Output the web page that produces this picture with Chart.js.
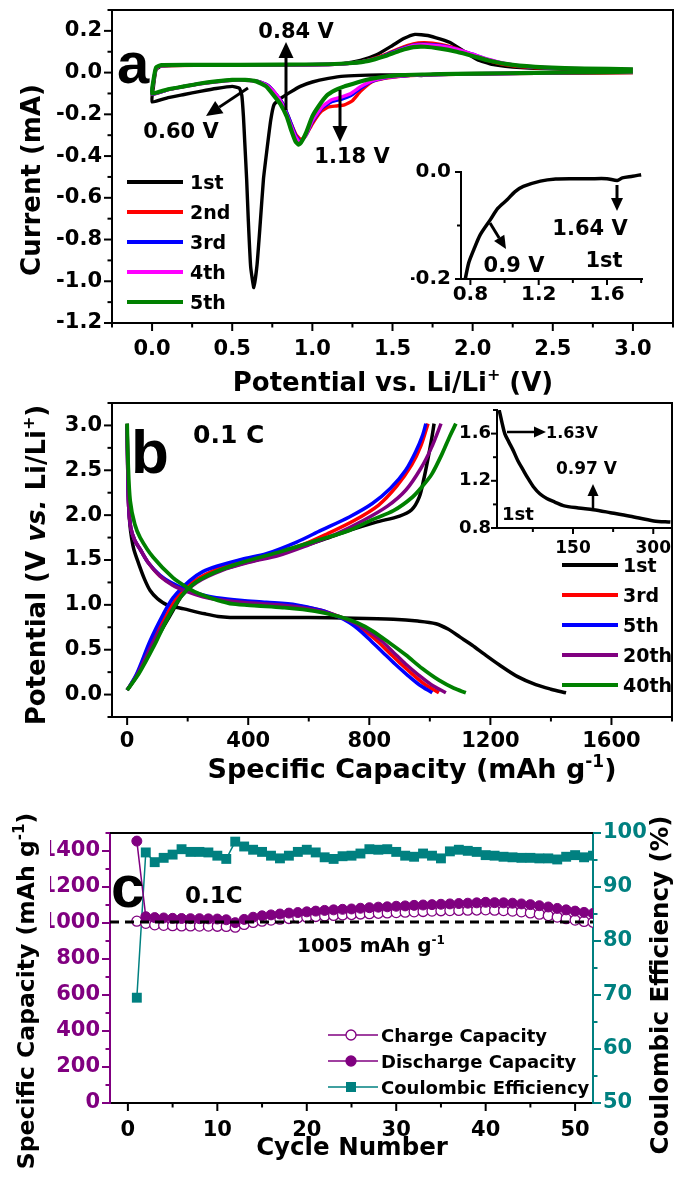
<!DOCTYPE html>
<html>
<head>
<meta charset="utf-8">
<script src="https://cdn.jsdelivr.net/npm/chart.js@4.4.1/dist/chart.umd.min.js"></script>
<style>
html, body { margin: 0; padding: 0; background: #fff; }
#wrap { position: relative; width: 685px; height: 1178px; }
#wrap canvas { position: absolute; left: 0; top: 0; }
</style>
</head>
<body>
<div id="wrap">
  <canvas id="cvA" width="685" height="1178"></canvas>
  <canvas id="cvAi" width="685" height="1178"></canvas>
  <canvas id="cvB" width="685" height="1178"></canvas>
  <canvas id="cvBi" width="685" height="1178"></canvas>
  <canvas id="cvC" width="685" height="1178"></canvas>
</div>
<script>
// ---- panel a: CV curves [potential V, current mA] ----
var cv1 = [[3.0,0.0],[2.6,-0.002],[2.2,-0.004],[1.9,-0.005],[1.75,-0.009],[1.68,-0.014],[1.62,-0.011],[1.5,-0.011],[1.35,-0.012],[1.2,-0.017],[1.1,-0.028],[1.0,-0.045],[0.925,-0.066],[0.86,-0.095],[0.8,-0.125],[0.76,-0.155],[0.74,-0.23],[0.715,-0.38],[0.695,-0.51],[0.675,-0.72],[0.655,-0.92],[0.635,-1.03],[0.615,-0.93],[0.6,-0.7],[0.59,-0.51],[0.578,-0.33],[0.57,-0.21],[0.56,-0.11],[0.545,-0.075],[0.5,-0.066],[0.4,-0.076],[0.3,-0.09],[0.2,-0.105],[0.1,-0.12],[0.0,-0.14],
  [0.008,-0.07],[0.025,0.015],[0.06,0.032],[0.2,0.035],[0.6,0.036],[1.0,0.038],[1.2,0.044],[1.3,0.058],[1.4,0.085],[1.5,0.13],[1.57,0.163],[1.64,0.183],[1.72,0.178],[1.8,0.16],[1.87,0.14],[1.95,0.1],[2.03,0.062],[2.12,0.04],[2.3,0.024],[2.6,0.016],[3.0,0.012]];
var cv2 = [[3.0,0.0],[2.6,-0.002],[2.2,-0.005],[1.9,-0.008],[1.7,-0.012],[1.55,-0.018],[1.45,-0.028],[1.37,-0.045],[1.3,-0.09],[1.25,-0.135],[1.2,-0.155],[1.15,-0.16],[1.1,-0.165],[1.05,-0.19],[1.0,-0.245],[0.96,-0.3],[0.93,-0.322],[0.9,-0.3],[0.86,-0.23],[0.82,-0.155],[0.77,-0.1],[0.72,-0.06],[0.66,-0.042],[0.58,-0.036],[0.5,-0.036],[0.4,-0.043],[0.3,-0.053],[0.2,-0.066],[0.1,-0.082],[0.0,-0.105],
  [0.008,-0.05],[0.025,0.02],[0.06,0.033],[0.3,0.035],[0.8,0.036],[1.1,0.038],[1.25,0.046],[1.35,0.06],[1.45,0.085],[1.55,0.118],[1.63,0.138],[1.7,0.143],[1.8,0.135],[1.9,0.115],[2.0,0.085],[2.1,0.057],[2.2,0.038],[2.35,0.025],[2.6,0.018],[3.0,0.013]];
var cv3 = [[3.0,0.002],[2.6,0.0],[2.2,-0.004],[1.9,-0.007],[1.7,-0.011],[1.55,-0.017],[1.45,-0.026],[1.37,-0.042],[1.3,-0.075],[1.24,-0.11],[1.18,-0.128],[1.12,-0.14],[1.06,-0.17],[1.0,-0.235],[0.96,-0.3],[0.925,-0.33],[0.895,-0.3],[0.86,-0.23],[0.82,-0.155],[0.77,-0.1],[0.72,-0.06],[0.66,-0.042],[0.58,-0.036],[0.5,-0.036],[0.4,-0.043],[0.3,-0.053],[0.2,-0.066],[0.1,-0.082],[0.0,-0.103],
  [0.008,-0.045],[0.025,0.022],[0.06,0.034],[0.3,0.036],[0.8,0.037],[1.1,0.039],[1.25,0.046],[1.35,0.058],[1.45,0.082],[1.55,0.113],[1.63,0.132],[1.7,0.136],[1.8,0.13],[1.9,0.113],[2.0,0.088],[2.1,0.062],[2.2,0.043],[2.35,0.028],[2.6,0.019],[3.0,0.014]];
var cv4 = [[3.0,0.002],[2.6,0.0],[2.2,-0.004],[1.9,-0.007],[1.7,-0.011],[1.55,-0.016],[1.45,-0.025],[1.37,-0.04],[1.3,-0.068],[1.24,-0.1],[1.18,-0.117],[1.12,-0.13],[1.06,-0.165],[1.0,-0.23],[0.96,-0.3],[0.922,-0.335],[0.89,-0.3],[0.855,-0.23],[0.815,-0.155],[0.77,-0.1],[0.72,-0.062],[0.66,-0.043],[0.58,-0.037],[0.5,-0.037],[0.4,-0.044],[0.3,-0.054],[0.2,-0.067],[0.1,-0.082],[0.0,-0.102],
  [0.008,-0.045],[0.025,0.022],[0.06,0.034],[0.3,0.036],[0.8,0.037],[1.1,0.039],[1.25,0.046],[1.35,0.058],[1.45,0.08],[1.55,0.11],[1.63,0.13],[1.7,0.134],[1.8,0.128],[1.9,0.112],[2.0,0.088],[2.1,0.063],[2.2,0.044],[2.35,0.029],[2.6,0.02],[3.0,0.015]];
var cv5 = [[3.0,0.004],[2.6,0.001],[2.2,-0.003],[1.9,-0.006],[1.7,-0.009],[1.55,-0.012],[1.45,-0.02],[1.34,-0.034],[1.27,-0.05],[1.2,-0.066],[1.14,-0.085],[1.09,-0.11],[1.04,-0.16],[1.0,-0.21],[0.96,-0.29],[0.93,-0.335],[0.915,-0.345],[0.895,-0.33],[0.87,-0.28],[0.84,-0.21],[0.8,-0.15],[0.76,-0.11],[0.71,-0.065],[0.65,-0.042],[0.58,-0.035],[0.5,-0.035],[0.4,-0.042],[0.3,-0.052],[0.2,-0.066],[0.1,-0.08],[0.0,-0.1],
  [0.008,-0.04],[0.025,0.025],[0.06,0.036],[0.3,0.037],[0.8,0.038],[1.1,0.04],[1.25,0.046],[1.35,0.056],[1.45,0.078],[1.55,0.106],[1.63,0.122],[1.7,0.124],[1.8,0.115],[1.9,0.1],[2.0,0.08],[2.1,0.058],[2.25,0.037],[2.45,0.025],[2.7,0.019],[3.0,0.016]];
var cvLabels = ['1st', '2nd', '3rd', '4th', '5th'];
// inset a: 1st cathodic scan, zoomed
var insetA = [[0.77,-0.2],[0.79,-0.17],[0.82,-0.145],[0.858,-0.117],[0.917,-0.089],[0.96,-0.068],[1.015,-0.052],[1.06,-0.037],[1.11,-0.027],[1.21,-0.017],[1.3,-0.013],[1.4,-0.0125],[1.5,-0.0125],[1.6,-0.0125],[1.66,-0.016],[1.69,-0.011],[1.75,-0.008],[1.8,-0.005]];

// ---- panel b: discharge / charge [capacity mAh/g, potential V] ----
var dis1 = [[0,3.02],[2,2.55],[5,2.15],[9,1.9],[15,1.74],[22,1.62],[38,1.46],[57,1.29],[76,1.16],[100,1.07],[132,1.0],[188,0.955],[257,0.9],[301,0.87],[340,0.86],[450,0.86],[600,0.858],[750,0.852],[880,0.84],[960,0.82],[1020,0.79],[1060,0.73],[1100,0.64],[1140,0.55],[1180,0.45],[1230,0.33],[1290,0.2],[1350,0.11],[1400,0.06],[1450,0.02]];
var chg1 = [[0,0.05],[30,0.2],[85,0.55],[140,0.87],[197,1.18],[260,1.33],[350,1.43],[460,1.53],[560,1.63],[650,1.73],[734,1.83],[820,1.92],[900,1.99],[940,2.06],[965,2.2],[980,2.4],[995,2.65],[1006,2.85],[1014,3.02]];
var dis3 = [[0,3.0],[2,2.5],[5,2.1],[12,1.86],[25,1.72],[43,1.62],[70,1.47],[109,1.32],[150,1.23],[196,1.16],[250,1.1],[295,1.07],[380,1.04],[460,1.02],[560,0.99],[640,0.94],[700,0.87],[745,0.8],[785,0.71],[825,0.6],[865,0.47],[905,0.34],[945,0.22],[985,0.11],[1030,0.02]];
var chg3 = [[0,0.05],[30,0.21],[80,0.57],[130,0.89],[165,1.08],[220,1.26],[300,1.4],[400,1.5],[480,1.56],[580,1.67],[660,1.79],[750,1.94],[830,2.11],[890,2.32],[940,2.56],[970,2.77],[994,3.02]];
var dis5 = [[0,3.0],[2,2.5],[5,2.1],[12,1.86],[25,1.72],[43,1.62],[70,1.47],[109,1.33],[150,1.24],[196,1.17],[250,1.11],[295,1.08],[380,1.05],[460,1.03],[560,1.0],[640,0.94],[695,0.87],[735,0.8],[770,0.71],[805,0.6],[845,0.47],[885,0.34],[925,0.22],[965,0.11],[1008,0.02]];
var chg5 = [[0,0.05],[30,0.22],[76,0.6],[120,0.9],[152,1.08],[207,1.27],[250,1.37],[296,1.43],[380,1.51],[460,1.57],[560,1.7],[640,1.83],[734,1.98],[810,2.13],[870,2.3],[920,2.5],[955,2.72],[975,2.88],[987,3.02]];
var dis20 = [[0,3.0],[2,2.5],[5,2.1],[12,1.86],[25,1.72],[43,1.62],[70,1.47],[109,1.32],[150,1.22],[196,1.15],[250,1.09],[295,1.06],[380,1.03],[460,1.01],[560,0.98],[640,0.93],[700,0.87],[750,0.8],[795,0.71],[840,0.6],[880,0.47],[920,0.34],[962,0.22],[1005,0.11],[1053,0.02]];
var chg20 = [[0,0.05],[30,0.2],[85,0.58],[140,0.9],[175,1.08],[230,1.25],[310,1.38],[410,1.48],[500,1.55],[600,1.67],[690,1.79],[780,1.94],[860,2.1],[921,2.28],[970,2.52],[1005,2.75],[1037,3.02]];
var dis40 = [[0,3.02],[3,2.6],[10,2.16],[25,1.9],[43,1.75],[86,1.53],[152,1.3],[200,1.19],[240,1.12],[300,1.05],[349,1.01],[430,0.99],[514,0.97],[620,0.93],[700,0.87],[760,0.8],[810,0.71],[865,0.58],[921,0.44],[975,0.29],[1030,0.16],[1080,0.07],[1119,0.02]];
var chg40 = [[0,0.05],[40,0.24],[90,0.55],[132,0.84],[180,1.1],[240,1.28],[349,1.44],[514,1.6],[620,1.71],[734,1.83],[810,1.95],[880,2.05],[942,2.2],[980,2.34],[1007,2.46],[1040,2.68],[1066,2.88],[1086,3.02]];
var gcdLabels = ['1st', '3rd', '5th', '20th', '40th'];
// inset b: 1st discharge, zoomed
var insetB = [[12,1.8],[17,1.7],[22.5,1.6],[30,1.53],[38,1.46],[47,1.37],[57,1.29],[66,1.22],[76,1.15],[88,1.09],[101,1.05],[116,1.02],[132,0.99],[160,0.97],[188,0.955],[220,0.93],[257,0.9],[301,0.86],[332,0.85]];

// ---- panel c: cycling ----
var cycles = [1,2,3,4,5,6,7,8,9,10,11,12,13,14,15,16,17,18,19,20,21,22,23,24,25,26,27,28,29,30,31,32,33,34,35,36,37,38,39,40,41,42,43,44,45,46,47,48,49,50,51,52];
var chargeCap = [1010,998,990,987,985,984,984,983,983,982,981,977,992,1003,1010,1016,1021,1025,1029,1032,1036,1039,1042,1045,1047,1050,1052,1054,1056,1058,1060,1062,1064,1066,1068,1069,1070,1071,1072,1073,1071,1069,1066,1062,1056,1049,1041,1033,1024,1016,1009,1004];
var dischargeCap = [1455,1035,1030,1028,1026,1025,1024,1024,1023,1022,1018,1002,1020,1032,1040,1045,1050,1055,1058,1062,1066,1070,1073,1076,1078,1082,1085,1088,1090,1093,1095,1098,1100,1102,1104,1106,1108,1110,1112,1115,1113,1112,1110,1106,1102,1096,1089,1081,1073,1066,1059,1053];
var coulombic = [69.5,96.4,94.6,95.4,96.0,97.0,96.5,96.5,96.4,95.8,95.2,98.4,97.5,96.9,96.5,95.8,95.3,95.8,96.5,96.9,96.4,95.5,95.2,95.7,95.8,96.2,97.0,96.9,97.0,96.5,95.8,95.6,96.2,95.8,95.3,96.6,96.9,96.7,96.5,95.9,95.8,95.6,95.5,95.4,95.4,95.3,95.3,95.1,95.6,95.9,95.5,95.8];
var refCap = 1005;

var FAM = '"DejaVu Sans", "Liberation Sans", sans-serif';
var LET = '"Liberation Sans", Arial, sans-serif';
var PURPLE = '#800080', TEAL = '#008080', GREEN = '#008000';

function pts(a) { return a.map(function (p) { return { x: p[0], y: p[1] }; }); }
function isMult(v, m) { var r = v / m; return Math.abs(r - Math.round(r)) < 1e-6; }
function fmt1(v) { return (Math.abs(v) < 1e-9 ? 0 : v).toFixed(1); }
function fmt0(v) { return String(Math.round(v)); }

// linear axis with only the major ticks labelled, fixed thickness
function axis(o) {
  var horiz = o.pos === 'bottom';
  return {
    type: 'linear', position: o.pos, min: o.min, max: o.max,
    grid: { display: false, drawTicks: true, tickLength: o.tl || 7 },
    border: { display: true, color: o.color || '#000', width: 2 },
    ticks: {
      autoSkip: false, maxRotation: 0, minRotation: 0,
      padding: o.pad, color: o.color || '#000',
      font: { family: FAM, size: o.size, weight: 'bold' },
      callback: function (v) { return o.fmt(v); }
    },
    afterBuildTicks: function (s) {
      var out = [];
      var k0 = Math.ceil(o.min / o.major - 1e-6);
      for (var k = k0; k * o.major <= o.max + 1e-9; k++) out.push({ value: +(k * o.major).toFixed(6) });
      s.ticks = out;
    },
    afterFit: function (s) {
      if (horiz) s.height = o.thick; else s.width = o.thick;
      s.paddingLeft = s.paddingRight = s.paddingTop = s.paddingBottom = 0;
    }
  };
}

function line(data, color, width, order, tension) {
  return { data: pts(data), borderColor: color, backgroundColor: color, borderWidth: width,
    pointRadius: 0, tension: tension, fill: false, order: order };
}

function baseOpts(pad, scales) {
  return {
    responsive: false, animation: false, events: [],
    layout: { padding: pad },
    plugins: { legend: { display: false }, tooltip: { enabled: false } },
    scales: scales
  };
}

// tick marks (major long, minor short), outward
function drawTicks(chart, specs) {
  var ctx = chart.ctx;
  specs.forEach(function (t) {
    var s = chart.scales[t.id];
    ctx.save();
    ctx.strokeStyle = t.color || '#000';
    ctx.lineWidth = 2;
    var k0 = Math.ceil(s.min / t.minor - 1e-6);
    for (var k = k0; k * t.minor <= s.max + 1e-9; k++) {
      var v = k * t.minor;
      var len = isMult(v, t.major) ? (t.big || 8) : (t.small || 4.5);
      var p = s.getPixelForValue(v);
      ctx.beginPath();
      if (s.position === 'bottom') { ctx.moveTo(p, s.top); ctx.lineTo(p, s.top + len); }
      else if (s.position === 'left') { ctx.moveTo(s.right, p); ctx.lineTo(s.right - len, p); }
      else { ctx.moveTo(s.left, p); ctx.lineTo(s.left + len, p); }
      ctx.stroke();
    }
    ctx.restore();
  });
}

function frame(chart, topColor, rightColor) {
  var a = chart.chartArea, ctx = chart.ctx;
  ctx.save();
  ctx.lineWidth = 2;
  ctx.strokeStyle = topColor;
  ctx.beginPath(); ctx.moveTo(a.left - 1, a.top); ctx.lineTo(a.right + 1, a.top); ctx.stroke();
  if (rightColor) {
    ctx.strokeStyle = rightColor;
    ctx.beginPath(); ctx.moveTo(a.right, a.top); ctx.lineTo(a.right, a.bottom); ctx.stroke();
  }
  ctx.restore();
}

function txt(ctx, s, x, y, size, align, fam) {
  ctx.save();
  ctx.font = 'bold ' + size + 'px ' + (fam || FAM);
  ctx.fillStyle = '#000';
  ctx.textAlign = align || 'left';
  ctx.textBaseline = 'alphabetic';
  ctx.fillText(s, x, y);
  ctx.restore();
}

// rich text: parts [text, style] style '' | 'i' (italic) | 's' (superscript)
function rich(ctx, parts, x, y, size, align, rot) {
  ctx.save();
  ctx.translate(x, y);
  if (rot) ctx.rotate(-Math.PI / 2);
  ctx.fillStyle = '#000';
  ctx.textAlign = 'left';
  ctx.textBaseline = 'alphabetic';
  var fonts = parts.map(function (p) {
    return (p[1] === 'i' ? 'italic ' : '') + 'bold ' + (p[1] === 's' ? Math.round(size * 0.62) : size) + 'px ' + FAM;
  });
  var total = 0;
  var ws = parts.map(function (p, i) { ctx.font = fonts[i]; var w = ctx.measureText(p[0]).width; total += w; return w; });
  var cx = align === 'center' ? -total / 2 : (align === 'right' ? -total : 0);
  parts.forEach(function (p, i) {
    ctx.font = fonts[i];
    ctx.fillText(p[0], cx, p[1] === 's' ? -size * 0.42 : 0);
    cx += ws[i];
  });
  ctx.restore();
}

function arrow(ctx, x1, y1, x2, y2, lw, hl, hw) {
  var a = Math.atan2(y2 - y1, x2 - x1);
  var bx = x2 - hl * Math.cos(a), by = y2 - hl * Math.sin(a);
  ctx.save();
  ctx.strokeStyle = '#000'; ctx.fillStyle = '#000'; ctx.lineWidth = lw;
  ctx.beginPath(); ctx.moveTo(x1, y1); ctx.lineTo(bx, by); ctx.stroke();
  ctx.beginPath(); ctx.moveTo(x2, y2);
  ctx.lineTo(bx + hw / 2 * Math.sin(a), by - hw / 2 * Math.cos(a));
  ctx.lineTo(bx - hw / 2 * Math.sin(a), by + hw / 2 * Math.cos(a));
  ctx.closePath(); ctx.fill();
  ctx.restore();
}

function legendLines(ctx, labels, colors, x1, x2, tx, y0, dy, size, lw) {
  labels.forEach(function (lab, i) {
    var y = y0 + i * dy;
    ctx.save();
    ctx.strokeStyle = colors[i]; ctx.lineWidth = lw;
    ctx.beginPath(); ctx.moveTo(x1, y); ctx.lineTo(x2, y); ctx.stroke();
    ctx.restore();
    txt(ctx, lab, tx, y + size * 0.36, size);
  });
}

// ================= panel a =================
var cvColors = ['#000000', '#ff0000', '#0000ff', '#ff00ff', GREEN];
new Chart(document.getElementById('cvA'), {
  type: 'line',
  data: { datasets: [
    line(cv1, cvColors[0], 3.4, 4, 0.15),
    line(cv2, cvColors[1], 3.4, 3, 0.15),
    line(cv3, cvColors[2], 3.4, 2, 0.15),
    line(cv4, cvColors[3], 3.4, 1, 0.15),
    line(cv5, cvColors[4], 4.2, 0, 0.15)
  ] },
  options: baseOpts({ left: 52, right: 12, top: 10, bottom: 815 }, {
    x: axis({ pos: 'bottom', min: -0.25, max: 3.25, major: 0.5, size: 21, pad: 7, thick: 40, fmt: fmt1 }),
    y: axis({ pos: 'left', min: -1.2, max: 0.3, major: 0.2, size: 21, pad: 3, thick: 60, fmt: fmt1 })
  }),
  plugins: [{ id: 'decoA', afterDraw: function (chart) {
    var ctx = chart.ctx;
    frame(chart, '#000', '#000');
    drawTicks(chart, [{ id: 'x', major: 0.5, minor: 0.25 }, { id: 'y', major: 0.2, minor: 0.1 }]);
    rich(ctx, [['Current (mA)', '']], 40, 180, 26, 'center', true);
    rich(ctx, [['Potential vs. Li/Li', ''], ['+', 's'], [' (V)', '']], 393, 391, 26, 'center', false);
    txt(ctx, 'a', 117, 83, 58, 'left', LET);
    txt(ctx, '0.84 V', 296, 38, 21, 'center');
    arrow(ctx, 286, 110, 286, 42, 3, 16, 15);
    txt(ctx, '0.60 V', 181, 138, 21, 'center');
    arrow(ctx, 248, 88, 206, 116, 3, 16, 15);
    txt(ctx, '1.18 V', 352, 163, 21, 'center');
    arrow(ctx, 340, 90, 340, 142, 3, 16, 15);
    legendLines(ctx, cvLabels, cvColors, 127, 183, 190, 182, 30, 19, 4);
  } }]
});

// ---- inset a ----
new Chart(document.getElementById('cvAi'), {
  type: 'line',
  data: { datasets: [ line(insetA, '#000', 3.5, 0, 0.25) ] },
  options: baseOpts({ left: 411, right: 43, top: 172, bottom: 869 }, {
    x: axis({ pos: 'bottom', min: 0.745, max: 1.805, major: 0.4, size: 20, pad: -1, tl: 5, thick: 30, fmt: fmt1 }),
    y: axis({ pos: 'left', min: -0.2, max: 0.0, major: 0.2, size: 20, pad: 5, tl: 5, thick: 50, fmt: fmt1 })
  }),
  plugins: [{ id: 'decoAi', afterDraw: function (chart) {
    var ctx = chart.ctx;
    drawTicks(chart, [{ id: 'x', major: 0.4, minor: 0.2, big: 6, small: 4 }, { id: 'y', major: 0.2, minor: 0.1, big: 6, small: 4 }]);
    txt(ctx, '1.64 V', 590, 235, 21, 'center');
    arrow(ctx, 617, 185, 617, 211, 3, 13, 12);
    txt(ctx, '1st', 604, 267, 21, 'center');
    txt(ctx, '0.9 V', 514, 272, 21, 'center');
    arrow(ctx, 490, 223, 506, 249, 3, 13, 12);
  } }]
});

// ================= panel b =================
var gcdColors = ['#000000', '#ff0000', '#0000ff', PURPLE, GREEN];
new Chart(document.getElementById('cvB'), {
  type: 'line',
  data: { datasets: [
    line(dis1, gcdColors[0], 3.5, 8, 0.3), line(chg1, gcdColors[0], 3.5, 9, 0.3),
    line(dis3, gcdColors[1], 3.5, 6, 0.3), line(chg3, gcdColors[1], 3.5, 7, 0.3),
    line(dis5, gcdColors[2], 3.5, 4, 0.3), line(chg5, gcdColors[2], 3.5, 5, 0.3),
    line(dis20, gcdColors[3], 3.5, 2, 0.3), line(chg20, gcdColors[3], 3.5, 3, 0.3),
    line(dis40, gcdColors[4], 3.8, 0, 0.3), line(chg40, gcdColors[4], 3.8, 1, 0.3)
  ] },
  options: baseOpts({ left: 52, right: 13, top: 403, bottom: 421 }, {
    x: axis({ pos: 'bottom', min: -50, max: 1800, major: 400, size: 21, pad: 5, thick: 40, fmt: fmt0 }),
    y: axis({ pos: 'left', min: -0.25, max: 3.25, major: 0.5, size: 21, pad: 3, thick: 60, fmt: fmt1 })
  }),
  plugins: [{ id: 'decoB', afterDraw: function (chart) {
    var ctx = chart.ctx;
    frame(chart, '#000', '#000');
    drawTicks(chart, [{ id: 'x', major: 400, minor: 200 }, { id: 'y', major: 0.5, minor: 0.25 }]);
    rich(ctx, [['Potential (V ', ''], ['vs.', 'i'], [' Li/Li', ''], ['+', 's'], [')', '']], 45, 565, 26, 'center', true);
    rich(ctx, [['Specific Capacity (mAh g', ''], ['-1', 's'], [')', '']], 412, 778, 27, 'center', false);
    txt(ctx, 'b', 131, 473, 62, 'left', LET);
    txt(ctx, '0.1 C', 193, 443, 25, 'left');
    legendLines(ctx, gcdLabels, gcdColors, 562, 618, 623, 565, 30, 19, 4);
  } }]
});

// ---- inset b ----
new Chart(document.getElementById('cvBi'), {
  type: 'line',
  data: { datasets: [ line(insetB, '#000', 3.5, 0, 0.3) ] },
  options: baseOpts({ left: 447, right: 13, top: 410, bottom: 620 }, {
    x: axis({ pos: 'bottom', min: 8, max: 335, major: 150, size: 17, pad: 5, tl: 5, thick: 30, fmt: fmt0 }),
    y: axis({ pos: 'left', min: 0.8, max: 1.8, major: 0.4, size: 18, pad: 2, tl: 4, thick: 50, fmt: fmt1 })
  }),
  plugins: [{ id: 'decoBi', afterDraw: function (chart) {
    var ctx = chart.ctx;
    drawTicks(chart, [{ id: 'x', major: 150, minor: 75, big: 6, small: 4 }, { id: 'y', major: 0.4, minor: 0.2, big: 6, small: 4 }]);
    arrow(ctx, 507, 432, 546, 432, 2.5, 12, 11);
    txt(ctx, '1.63V', 546, 438, 16, 'left');
    txt(ctx, '0.97 V', 556, 474, 17, 'left');
    arrow(ctx, 593, 508, 593, 484, 2.5, 12, 11);
    txt(ctx, '1st', 502, 520, 18, 'left');
  } }]
});

// ================= panel c =================
function xy(xs, ys) { return xs.map(function (x, i) { return [x, ys[i]]; }); }
new Chart(document.getElementById('cvC'), {
  type: 'line',
  data: { datasets: [
    { data: pts([[-2, refCap], [52, refCap]]), borderColor: '#000', borderWidth: 3, borderDash: [9, 6], pointRadius: 0, order: 0 },
    { data: pts(xy(cycles, dischargeCap)), borderColor: PURPLE, backgroundColor: PURPLE, borderWidth: 1.5,
      pointStyle: 'circle', pointRadius: 5, pointBorderWidth: 1, order: 1 },
    { data: pts(xy(cycles, chargeCap)), borderColor: PURPLE, backgroundColor: '#ffffff', borderWidth: 1.5,
      pointStyle: 'circle', pointRadius: 5, pointBorderWidth: 1.3, order: 2 },
    { data: pts(xy(cycles, coulombic)), yAxisID: 'y2', borderColor: TEAL, backgroundColor: TEAL, borderWidth: 1.5,
      pointStyle: 'rect', pointRadius: 7, pointBorderWidth: 0, order: 3 }
  ] },
  options: baseOpts({ left: 50, right: 32, top: 833, bottom: 35 }, {
    x: axis({ pos: 'bottom', min: -2, max: 52, major: 10, size: 21, pad: 8, thick: 40, fmt: fmt0 }),
    y: axis({ pos: 'left', min: 0, max: 1500, major: 200, size: 21, pad: 3, thick: 60, fmt: fmt0, color: PURPLE }),
    y2: axis({ pos: 'right', min: 50, max: 100, major: 10, size: 21, pad: 3, thick: 60, fmt: fmt0, color: TEAL })
  }),
  plugins: [{ id: 'decoC', afterDraw: function (chart) {
    var ctx = chart.ctx;
    frame(chart, '#000', null);
    drawTicks(chart, [{ id: 'x', major: 10, minor: 5 }, { id: 'y', major: 200, minor: 100, color: PURPLE },
      { id: 'y2', major: 10, minor: 5, color: TEAL }]);
    rich(ctx, [['Specific Capacity (mAh g', ''], ['-1', 's'], [')', '']], 34, 991, 23.5, 'center', true);
    rich(ctx, [['Coulombic Efficiency (%)', '']], 668, 985, 24.5, 'center', true);
    rich(ctx, [['Cycle Number', '']], 352, 1155, 24.5, 'center', false);
    txt(ctx, 'c', 111, 907, 60, 'left', LET);
    txt(ctx, '0.1C', 185, 903, 23, 'left');
    rich(ctx, [['1005 mAh g', ''], ['-1', 's']], 297, 952, 20, 'left', false);
    // legend
    var rows = [['Charge Capacity', 'open'], ['Discharge Capacity', 'fill'], ['Coulombic Efficiency', 'sq']];
    rows.forEach(function (r, i) {
      var y = 1035 + i * 26;
      var col = r[1] === 'sq' ? TEAL : PURPLE;
      ctx.save();
      ctx.strokeStyle = col; ctx.lineWidth = 1.5;
      ctx.beginPath(); ctx.moveTo(328, y); ctx.lineTo(378, y); ctx.stroke();
      if (r[1] === 'sq') { ctx.fillStyle = TEAL; ctx.fillRect(346, y - 5, 10, 10); }
      else {
        ctx.beginPath(); ctx.arc(351, y, 5, 0, Math.PI * 2);
        ctx.fillStyle = r[1] === 'fill' ? PURPLE : '#fff'; ctx.fill();
        ctx.lineWidth = 1.3; ctx.stroke();
      }
      ctx.restore();
      txt(ctx, r[0], 381, y + 6.5, 18);
    });
  } }]
});
</script>
</body>
</html>
